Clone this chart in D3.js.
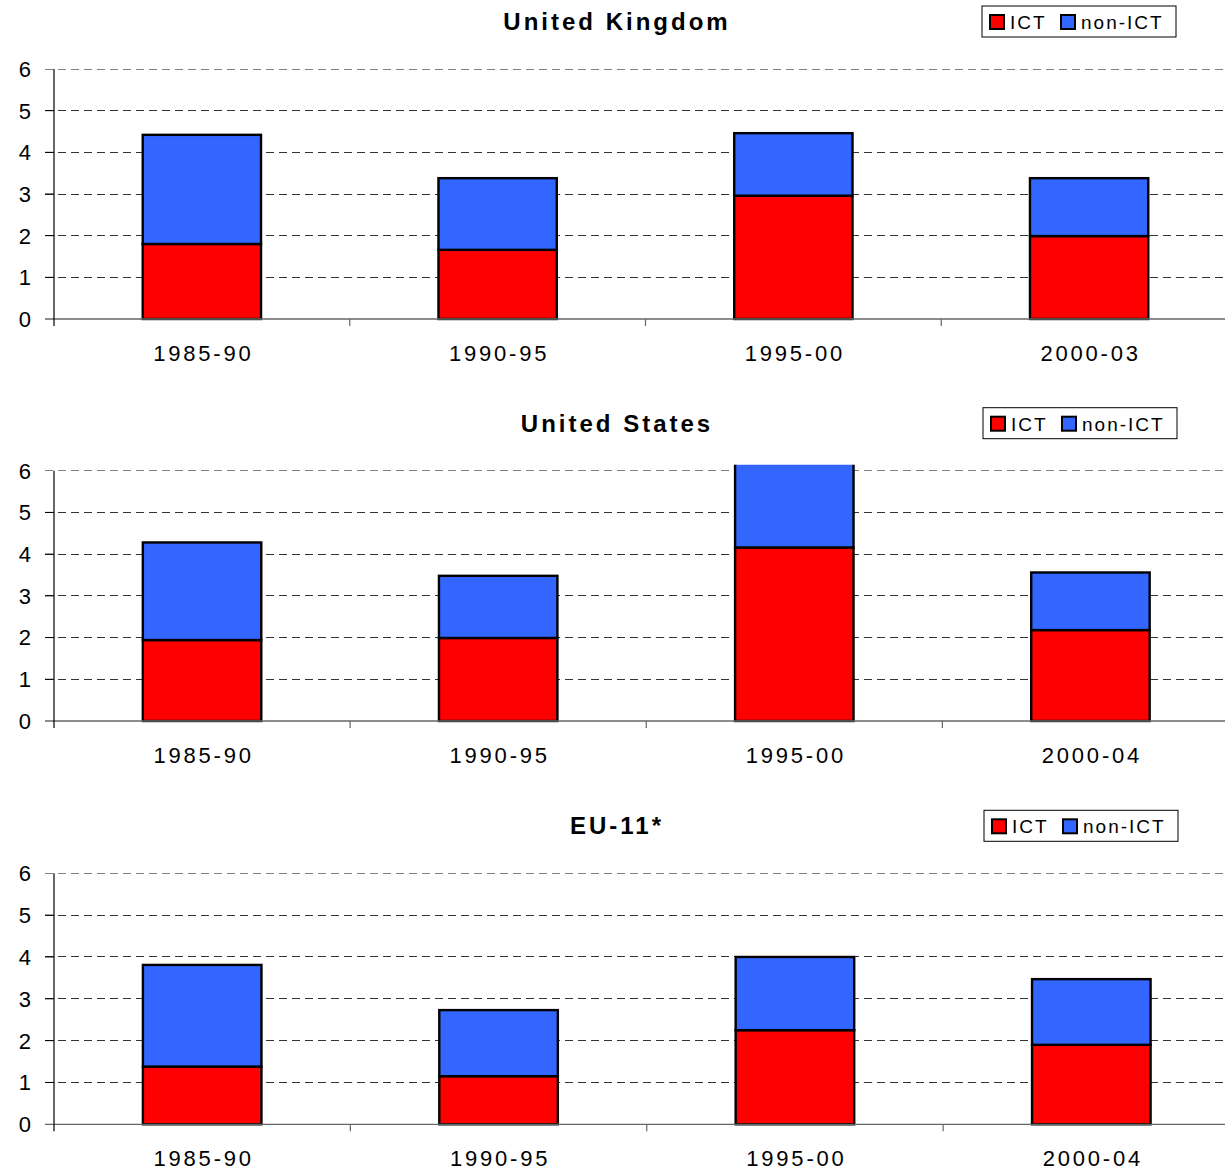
<!DOCTYPE html>
<html>
<head>
<meta charset="utf-8">
<script src="https://cdn.jsdelivr.net/npm/d3@7"></script>
<style>
  html, body { margin: 0; padding: 0; background: #fff; }
  svg { display: block; }
  text { font-family: "Liberation Sans", Arial, sans-serif; fill: #000; }
</style>
</head>
<body>
<svg id="chart" width="1225" height="1171"></svg>
<script>
// Labour productivity growth contributions: ICT vs non-ICT capital
const seriesNames = ["ICT", "non-ICT"];
const seriesColors = ["#ff0000", "#3366ff"];
const yTicks = [0, 1, 2, 3, 4, 5, 6];

const ukTitle = "United Kingdom";
const ukPeriods = ["1985-90", "1990-95", "1995-00", "2000-03"];
const ukICT = [1.80, 1.66, 2.96, 1.99];
const ukNonICT = [2.62, 1.72, 1.50, 1.39];

const usTitle = "United States";
const usPeriods = ["1985-90", "1990-95", "1995-00", "2000-04"];
const usICT = [1.94, 1.99, 4.16, 2.18];
const usNonICT = [2.34, 1.49, 2.10, 1.38];

const euTitle = "EU-11*";
const euPeriods = ["1985-90", "1990-95", "1995-00", "2000-04"];
const euICT = [1.38, 1.15, 2.25, 1.90];
const euNonICT = [2.43, 1.58, 1.75, 1.57];

const panels = [
  { title: ukTitle, periods: ukPeriods, ict: ukICT, non: ukNonICT, top: 69, height: 250, right: 1237 },
  { title: usTitle, periods: usPeriods, ict: usICT, non: usNonICT, top: 470.7, height: 250.3, right: 1238.5 },
  { title: euTitle, periods: euPeriods, ict: euICT, non: euNonICT, top: 873.3, height: 251, right: 1239.5 }
];

const svg = d3.select("#chart");
const W = 1225;
const axisX = 54;

panels.forEach((p, pi) => {
  const g = svg.append("g");
  const y = d3.scaleLinear().domain([0, 6]).range([p.top + p.height, p.top]);
  const x = d3.scaleBand().domain(p.periods).range([axisX, p.right])
    .paddingInner(0.6).paddingOuter(0.3);
  const step = x.step();

  // clip region for the plot area (bars running past 6 are cut)
  const clipId = "clip" + pi;
  g.append("clipPath").attr("id", clipId)
    .append("rect")
    .attr("x", axisX).attr("y", y(6) - 6)
    .attr("width", W - axisX).attr("height", y(0) - y(6) + 10);

  // dashed gridlines
  g.append("g").selectAll("line")
    .data(yTicks.filter(d => d > 0))
    .join("line")
    .attr("x1", axisX - 9).attr("x2", W)
    .attr("y1", d => y(d)).attr("y2", d => y(d))
    .attr("stroke", d => d === 6 ? "#808080" : "#333")
    .attr("stroke-width", 1)
    .attr("stroke-dasharray", "8,5")
    .attr("shape-rendering", "crispEdges");

  // stacked bars
  const stack = d3.stack().keys([0, 1])
    .value((d, k) => k === 0 ? d.ict : d.non);
  const rows = p.periods.map((per, i) => ({ per, ict: p.ict[i], non: p.non[i] }));
  const layers = stack(rows);

  const barG = g.append("g").attr("clip-path", `url(#${clipId})`);
  layers.forEach((layer, li) => {
    barG.append("g").selectAll("rect")
      .data(layer)
      .join("rect")
      .attr("x", d => x(d.data.per))
      .attr("width", x.bandwidth())
      .attr("y", d => y(d[1]))
      .attr("height", d => y(d[0]) - y(d[1]))
      .attr("fill", seriesColors[li])
      .attr("stroke", "#000")
      .attr("stroke-width", 2.4);
  });

  // x axis line
  g.append("line")
    .attr("x1", axisX - 9).attr("x2", W)
    .attr("y1", y(0)).attr("y2", y(0))
    .attr("stroke", "#666").attr("stroke-width", 1.3);

  // y axis line + ticks
  g.append("line")
    .attr("x1", axisX).attr("x2", axisX)
    .attr("y1", y(6)).attr("y2", y(0) + 7)
    .attr("stroke", "#000").attr("stroke-width", 1.2);
  g.append("g").selectAll("line")
    .data(yTicks.filter(d => d > 0 && d < 6))
    .join("line")
    .attr("x1", axisX - 9).attr("x2", axisX)
    .attr("y1", d => y(d)).attr("y2", d => y(d))
    .attr("stroke", "#000").attr("stroke-width", 1);
  g.append("g").selectAll("text")
    .data(yTicks)
    .join("text")
    .attr("x", 31)
    .attr("y", d => y(d))
    .attr("dy", "0.36em")
    .attr("text-anchor", "end")
    .style("font-size", "22px")
    .text(d => d);

  // category boundary ticks
  g.append("g").selectAll("line")
    .data(d3.range(1, p.periods.length))
    .join("line")
    .attr("x1", i => axisX + i * step).attr("x2", i => axisX + i * step)
    .attr("y1", y(0)).attr("y2", y(0) + 7)
    .attr("stroke", "#666").attr("stroke-width", 1.2);

  // category labels
  g.append("g").selectAll("text")
    .data(p.periods)
    .join("text")
    .attr("x", d => x(d) + x.bandwidth() / 2 + 1.5)
    .attr("y", y(0) + 42)
    .attr("text-anchor", "middle")
    .style("font-size", "22px")
    .style("letter-spacing", "2.8px")
    .text(d => d);

  // panel title
  g.append("text")
    .attr("x", 617)
    .attr("y", p.top - 39)
    .attr("text-anchor", "middle")
    .style("font-size", "24px")
    .style("font-weight", "bold")
    .style("letter-spacing", "3px")
    .text(p.title);

  // legend
  const lg = g.append("g").attr("transform", `translate(${982 + pi}, ${p.top - 63})`);
  lg.append("rect")
    .attr("x", 0).attr("y", 0).attr("width", 194).attr("height", 31)
    .attr("fill", "#fff").attr("stroke", "#000").attr("stroke-width", 1);
  const itemX = [8, 79];
  seriesNames.forEach((name, i) => {
    lg.append("rect")
      .attr("x", itemX[i]).attr("y", 9).attr("width", 14).attr("height", 14)
      .attr("fill", seriesColors[i]).attr("stroke", "#000").attr("stroke-width", 2);
    lg.append("text")
      .attr("x", itemX[i] + 20).attr("y", 23)
      .style("font-size", "19px")
      .style("letter-spacing", "2px")
      .text(name);
  });
});
</script>
</body>
</html>
